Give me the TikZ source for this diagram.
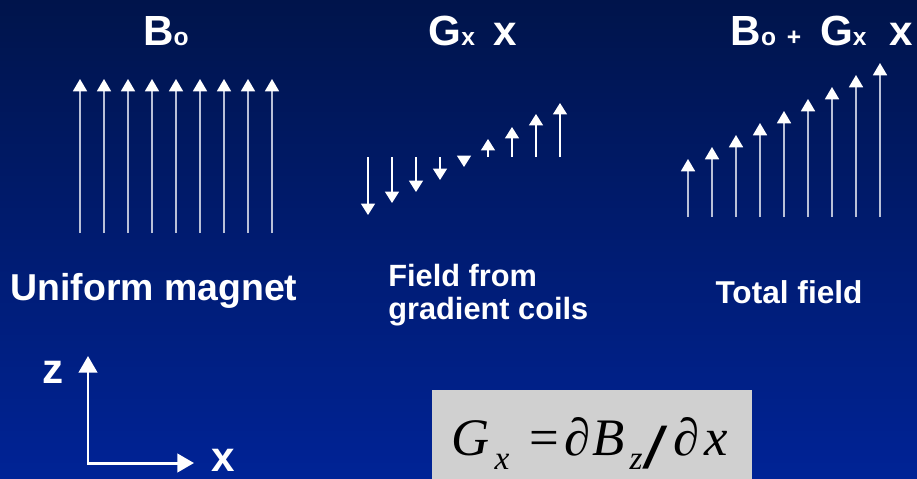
\documentclass[tikz,border=0pt]{standalone}
\usepackage{fontspec}
\setmainfont{Liberation Sans}
\newfontfamily\eqfont{Liberation Serif}
\usetikzlibrary{arrows.meta,positioning}

\definecolor{navytop}{RGB}{0,20,75}
\definecolor{navybottom}{RGB}{0,35,150}
\definecolor{fieldline}{RGB}{185,192,215}
\definecolor{eqgray}{RGB}{208,208,208}
\newcommand{\smallsym}[1]{{\fontsize{14}{14}\selectfont #1}}
\newcommand{\eqsub}[1]{\raisebox{-0.28em}{\fontsize{19}{19}\selectfont #1}}

\begin{document}
\begin{tikzpicture}[
    x=0.02cm, y=-0.02cm,
    title/.style={text=white, font=\bfseries\fontsize{24}{28}\selectfont, anchor=base, inner sep=0pt},
    caption/.style={text=white, font=\bfseries\fontsize{17.5}{18.7}\selectfont, anchor=base, inner sep=0pt},
    vec/.style={line width=0.85pt, draw=fieldline, -{Triangle[width=8pt, length=7pt, color=white]}},
    gradvec/.style={line width=0.75pt, draw=white, -{Triangle[width=8pt, length=6.5pt, color=white]}},
    axis/.style={line width=1.7pt, draw=white, {Triangle[width=10.5pt, length=9.5pt]}-{Triangle[width=10.5pt, length=9.5pt]}},
    eqbox/.style={rectangle, fill=eqgray, minimum width=6.4cm, minimum height=1.8cm, anchor=north west, inner sep=0pt}
]
    % background
    \shade[top color=navytop, bottom color=navybottom] (0,0) rectangle (917,478);
    \useasboundingbox (0,0) rectangle (917,478);

    % headings
    \node[title] (bzero) at (166,45) {B\smallsym{o}};
    \node[title] (gradx) at (473,45) {G\smallsym{x}\ \,x};
    \node[title] (total) at (822,45) {B\smallsym{o\ \,+}\ \,G\smallsym{x}\ \ x};

    % uniform field
    \foreach \i in {0,...,8}
        \draw[vec] (80+24*\i,233) -- (80+24*\i,79);

    % gradient field
    \foreach \px/\tip in {368/215, 392/203, 416/192, 440/180, 464/167, 488/139, 512/127, 536/114, 560/103}
        \draw[gradvec] (\px,157) -- (\px,\tip);

    % total field
    \foreach \i in {0,...,8}
        \draw[vec] (688+24*\i,217) -- (688+24*\i,159-12*\i);

    % captions
    \node[caption, font=\bfseries\fontsize{21.3}{24}\selectfont] (uniform) at (154,300) {Uniform magnet};
    \node[caption, align=left, anchor=north west] (coils) at (388,264) {Field from\\gradient coils};
    \node[caption, font=\bfseries\fontsize{18}{20}\selectfont] (sum) at (789,303) {Total field};

    % axes
    \coordinate (origin) at (88,463);
    \coordinate (ztip) at (88,356);
    \coordinate (xtip) at (194,463);
    \draw[axis] (ztip) |- (xtip);
    \node[title] (zlabel) at (53,383) {z};
    \node[title] (xlabel) at (223,471) {x};

    % gradient definition
    \node[eqbox] (eqback) at (432,390) {};
    \node[anchor=base west, inner sep=0pt, font=\eqfont\fontsize{30}{34}\selectfont] (gradeq) at (451,455)
        {\itshape G\hspace{0.1em}\eqsub{x}\hspace{0.38em}\upshape=\hspace{0.1em}∂\hspace{0.03em}\itshape B\hspace{0.1em}\eqsub{z}\hspace{0.02em}\upshape\raisebox{-0.26em}{\scalebox{1.6}[1.22]{\bfseries /}}\hspace{0.12em}∂\hspace{0.1em}\itshape x};
\end{tikzpicture}
\end{document}
